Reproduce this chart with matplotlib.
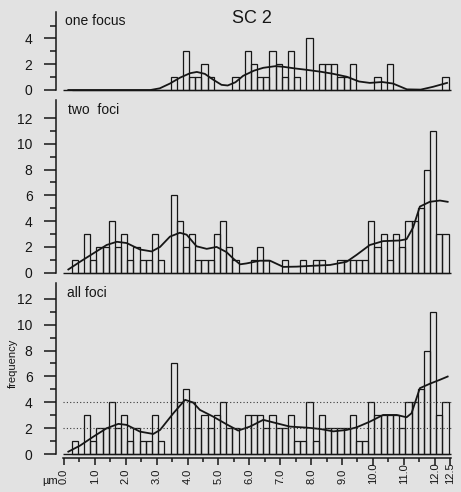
import numpy as np
import matplotlib
matplotlib.use("Agg")
import matplotlib.pyplot as plt
from matplotlib.transforms import blended_transform_factory

INK = "#161616"
PAPER = "#e2e2e2"

plt.rcParams.update({
    "font.family": ["Liberation Sans", "DejaVu Sans"],
    "font.size": 10,
    "text.color": INK,
    "axes.edgecolor": INK,
    "xtick.color": INK,
    "ytick.color": INK,
})

# ---------------------------------------------------------------------------
# Data: foci positions along SC 2, 0.2 um bins starting at 0.25 um
# ---------------------------------------------------------------------------
BIN_START = 0.25
BIN_WIDTH = 0.2

ONE_FOCUS = [0, 0, 0, 0, 0, 0, 0, 0, 0, 0, 0, 0, 0, 0, 0, 0,
             1, 0, 3, 1, 1, 2, 1, 0, 0, 0, 1, 0, 3, 2, 1, 1,
             3, 2, 1, 3, 1, 0, 4, 0, 2, 2, 2, 1, 1, 2, 0, 0,
             0, 1, 0, 2, 0, 0, 0, 0, 0, 0, 0, 0, 1]
TWO_FOCI = [1, 0, 3, 1, 2, 2, 4, 2, 3, 1, 2, 1, 1, 3, 1, 0,
            6, 4, 2, 3, 1, 1, 1, 3, 4, 2, 1, 0, 0, 1, 2, 1,
            0, 0, 1, 0, 0, 1, 0, 1, 1, 0, 0, 1, 1, 1, 1, 1,
            4, 2, 3, 1, 3, 2, 4, 4, 5, 8, 11, 3, 3]
ALL_FOCI = [1, 0, 3, 1, 2, 2, 4, 2, 3, 1, 2, 1, 1, 3, 1, 0,
            7, 4, 5, 4, 2, 3, 2, 3, 4, 2, 2, 0, 3, 3, 3, 2,
            3, 2, 2, 3, 1, 1, 4, 1, 3, 2, 2, 2, 2, 3, 1, 1,
            4, 3, 3, 3, 3, 2, 4, 4, 5, 8, 11, 3, 4]

# smoothed frequency curves
ONE_CURVE_X = [0.14, 2.8, 3.1, 3.43, 3.75, 4.08, 4.3, 4.56, 4.83, 5.1, 5.3,
               5.55, 5.8, 6.15, 6.45, 6.85, 7.1, 7.45, 7.8, 8.3, 8.7, 9.15,
               9.55, 9.9, 10.3, 10.65, 11.1, 11.55, 11.95, 12.4]
ONE_CURVE_Y = [0.0, 0.0, 0.13, 0.5, 0.95, 1.3, 1.4, 1.25, 0.8, 0.4, 0.35,
               0.6, 1.1, 1.5, 1.72, 1.85, 1.8, 1.68, 1.58, 1.42, 1.26, 1.03,
               0.66, 0.55, 0.62, 0.5, 0.05, 0.03, 0.25, 0.55]

TWO_CURVE_X = [0.14, 0.52, 0.95, 1.38, 1.71, 2.03, 2.46, 2.84, 3.11, 3.43,
               3.75, 3.97, 4.29, 4.62, 4.94, 5.26, 5.5, 5.7, 5.91, 6.34,
               6.67, 7.1, 7.53, 8.07, 8.61, 9.15, 9.47, 9.9, 10.33, 10.87,
               11.09, 11.3, 11.52, 11.84, 12.17, 12.42]
TWO_CURVE_Y = [0.25, 0.85, 1.5, 2.15, 2.4, 2.3, 1.8, 1.65, 2.0, 2.8,
               3.1, 2.95, 2.05, 1.85, 2.0, 1.6, 1.05, 0.65, 0.72, 0.93,
               0.93, 0.45, 0.47, 0.54, 0.6, 0.85, 1.38, 2.15, 2.45, 2.5,
               2.6, 3.5, 5.13, 5.5, 5.6, 5.5]

ALL_CURVE_X = [0.14, 0.52, 0.95, 1.38, 1.76, 2.03, 2.46, 2.89, 3.11, 3.54,
               3.92, 4.18, 4.4, 4.83, 5.26, 5.64, 6.02, 6.45, 6.88, 7.31,
               7.85, 8.28, 8.72, 9.15, 9.47, 9.9, 10.33, 10.77, 11.09, 11.25,
               11.52, 11.84, 12.17, 12.42]
ALL_CURVE_Y = [0.18, 0.65, 1.34, 1.99, 2.33, 2.25, 1.73, 1.55, 1.86, 3.15,
               4.19, 3.98, 3.41, 2.89, 2.3, 1.81, 2.12, 2.64, 2.38, 2.12,
               2.04, 1.94, 1.75, 1.86, 2.06, 2.5, 3.02, 3.02, 2.84, 3.15,
               5.09, 5.43, 5.74, 5.99]

REF_LEVELS = [2, 4]

X_MAJOR = [0.0, 1.0, 2.0, 3.0, 4.0, 5.0, 6.0, 7.0, 8.0, 9.0, 10.0, 11.0, 12.0, 12.5]
X_MINOR = [0.5, 1.5, 2.5, 3.5, 4.5, 5.5, 6.5, 7.5, 8.5, 9.5, 10.5, 11.5]
X_LABELS = ["0.0", "1.0", "2.0", "3.0", "4.0", "5.0", "6.0", "7.0", "8.0",
            "9.0", "10.0", "11.0", "12.0", "12.5"]

# ---------------------------------------------------------------------------
# Layout (figure is 461 x 492 px)
# ---------------------------------------------------------------------------
W, H = 461, 492
XLIM = (-0.275, 12.69)
BASE_X = (-0.03, 12.52)


def px_axes(left, top, right, bottom):
    return [left / W, 1 - bottom / H, (right - left) / W, (bottom - top) / H]


def draw_panel(ax, counts, cx, cy, ytop, major, minor):
    edges = BIN_START + BIN_WIDTH * np.arange(len(counts))
    ax.bar(edges, counts, width=BIN_WIDTH, align="edge", fill=False,
           edgecolor=INK, linewidth=0.9, clip_on=False)
    ax.hlines(0, BASE_X[0], BASE_X[1], color=INK, lw=1.0, clip_on=False)
    ax.plot(cx, cy, color=INK, lw=1.3, clip_on=False)

    ax.set_xlim(*XLIM)
    ax.set_ylim(0, ytop)
    ax.patch.set_visible(False)
    for s in ("top", "right", "bottom"):
        ax.spines[s].set_visible(False)
    ax.spines["left"].set_linewidth(1.1)

    ax.set_xticks([])
    ax.set_yticks(major)
    ax.set_yticklabels([str(v) for v in major])
    ax.set_yticks(minor, minor=True)
    ax.tick_params(axis="y", which="major", direction="out", length=9,
                   width=1.1, pad=7.5, labelsize=10)
    ax.tick_params(axis="y", which="minor", direction="out", length=4.3,
                   width=1.1)


fig = plt.figure(figsize=(W / 100, H / 100), dpi=100, facecolor=PAPER)

ax1 = fig.add_axes(px_axes(55.5, 11.7, 456, 90))
ax2 = fig.add_axes(px_axes(55.5, 100, 456, 272.7))
ax3 = fig.add_axes(px_axes(55.5, 283.3, 456, 454))

draw_panel(ax1, ONE_FOCUS, ONE_CURVE_X, ONE_CURVE_Y, 6.07, [0, 2, 4], [1, 3, 5])
draw_panel(ax2, TWO_FOCI, TWO_CURVE_X, TWO_CURVE_Y, 13.4,
           list(range(0, 13, 2)), list(range(1, 12, 2)))
draw_panel(ax3, ALL_FOCI, ALL_CURVE_X, ALL_CURVE_Y, 13.2,
           list(range(0, 13, 2)), list(range(1, 12, 2)))

# dotted reference levels in the bottom panel
for lvl in REF_LEVELS:
    ax3.hlines(lvl, BASE_X[0], BASE_X[1], color="#3a3a3a", lw=0.8,
               linestyles=(0, (1, 2)))

# x axis of bottom panel
ax3.spines["bottom"].set_visible(True)
ax3.spines["bottom"].set_position(("outward", 3.1))
ax3.spines["bottom"].set_bounds(BASE_X[0], BASE_X[1])
ax3.spines["bottom"].set_linewidth(1.1)
ax3.set_xticks(X_MAJOR)
ax3.set_xticklabels([])
ax3.set_xticks(X_MINOR, minor=True)
ax3.tick_params(axis="x", which="major", direction="out", length=5, width=1.1)
ax3.tick_params(axis="x", which="minor", direction="out", length=3, width=1.1)

lab_tr = blended_transform_factory(ax3.transData, fig.transFigure)
for xv, lab in zip(X_MAJOR, X_LABELS):
    ax3.text(xv, 1 - 483.5 / H, lab, transform=lab_tr, rotation=90,
             ha="center", va="bottom", fontsize=8)

# texts
fig.text(252 / W, 1 - 18.5 / H, "SC 2", ha="center", va="center", fontsize=13)
fig.text(65 / W, 1 - 21 / H, "one focus", ha="left", va="center", fontsize=10)
fig.text(68 / W, 1 - 110 / H, "two  foci", ha="left", va="center", fontsize=10)
fig.text(67 / W, 1 - 293 / H, "all foci", ha="left", va="center", fontsize=10)
fig.text(13 / W, 1 - 363 / H, "frequency", rotation=90, ha="center",
         va="center", fontsize=8)
fig.text(50.5 / W, 1 - 481 / H, "µm", ha="center", va="center", fontsize=8)

fig.savefig("out.png", dpi=100, facecolor=PAPER)
